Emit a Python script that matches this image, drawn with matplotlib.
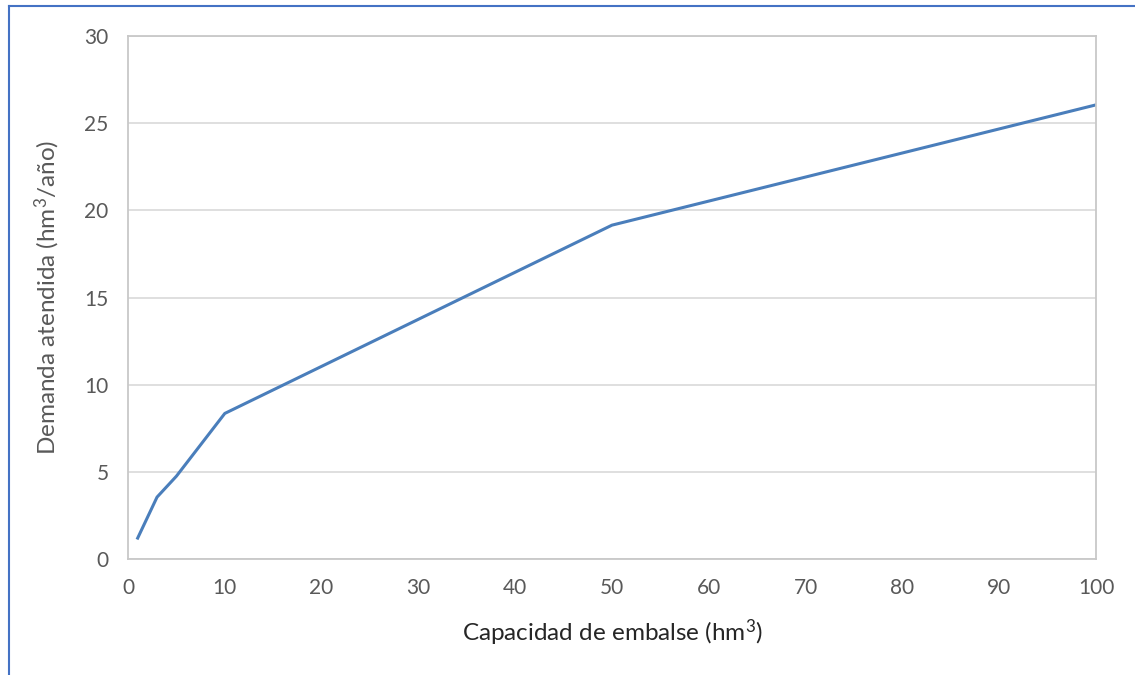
import numpy as np
from matplotlib import pyplot as plt
from matplotlib.lines import Line2D

# capacidad de embalse (hm3) vs demanda atendida (hm3/año)
capacidad = [1, 3, 5, 10, 50, 100]
demanda = [1.2, 3.55, 4.75, 8.35, 19.15, 26.05]

x_ticks = list(range(0, 101, 10))
y_ticks = list(range(0, 31, 5))

plt.rcParams['font.family'] = ['Lato', 'DejaVu Sans']
plt.rcParams['mathtext.fontset'] = 'custom'
plt.rcParams['mathtext.rm'] = 'Lato'
plt.rcParams['mathtext.default'] = 'rm'

fig = plt.figure(figsize=(11.35, 6.75), dpi=100)
ax = fig.add_axes([128 / 1135, 1 - 559 / 675, (1096 - 128) / 1135, (559 - 36) / 675])

ax.plot(capacidad, demanda, color='#4A7EBB', lw=2.2, solid_joinstyle='round')

ax.set_xlim(0, 100)
ax.set_ylim(0, 30)
ax.set_xticks(x_ticks)
ax.set_yticks(y_ticks)
ax.grid(axis='y', color='#D9D9D9', lw=1.2)
ax.set_axisbelow(True)
for s in ax.spines.values():
    s.set_color('#C8C8C8')
    s.set_linewidth(1.3)
ax.tick_params(length=0, labelsize=15, labelcolor='#595959', pad=14)

ax.set_xlabel('Capacidad de embalse (hm$^3$)', fontsize=17.5, color='#262626', labelpad=14)
ax.set_ylabel('Demanda atendida (hm$^3$/año)', fontsize=17.5, color='#595959', labelpad=16)

# chart area border (only left and top visible)
fig.add_artist(Line2D([8.5 / 1135, 8.5 / 1135], [0, 1 - 5.5 / 675], transform=fig.transFigure,
                      color='#4472C4', lw=1.5))
fig.add_artist(Line2D([8.5 / 1135, 1], [1 - 5.5 / 675, 1 - 5.5 / 675], transform=fig.transFigure,
                      color='#4472C4', lw=1.5))

fig.savefig('out.png', dpi=100)
